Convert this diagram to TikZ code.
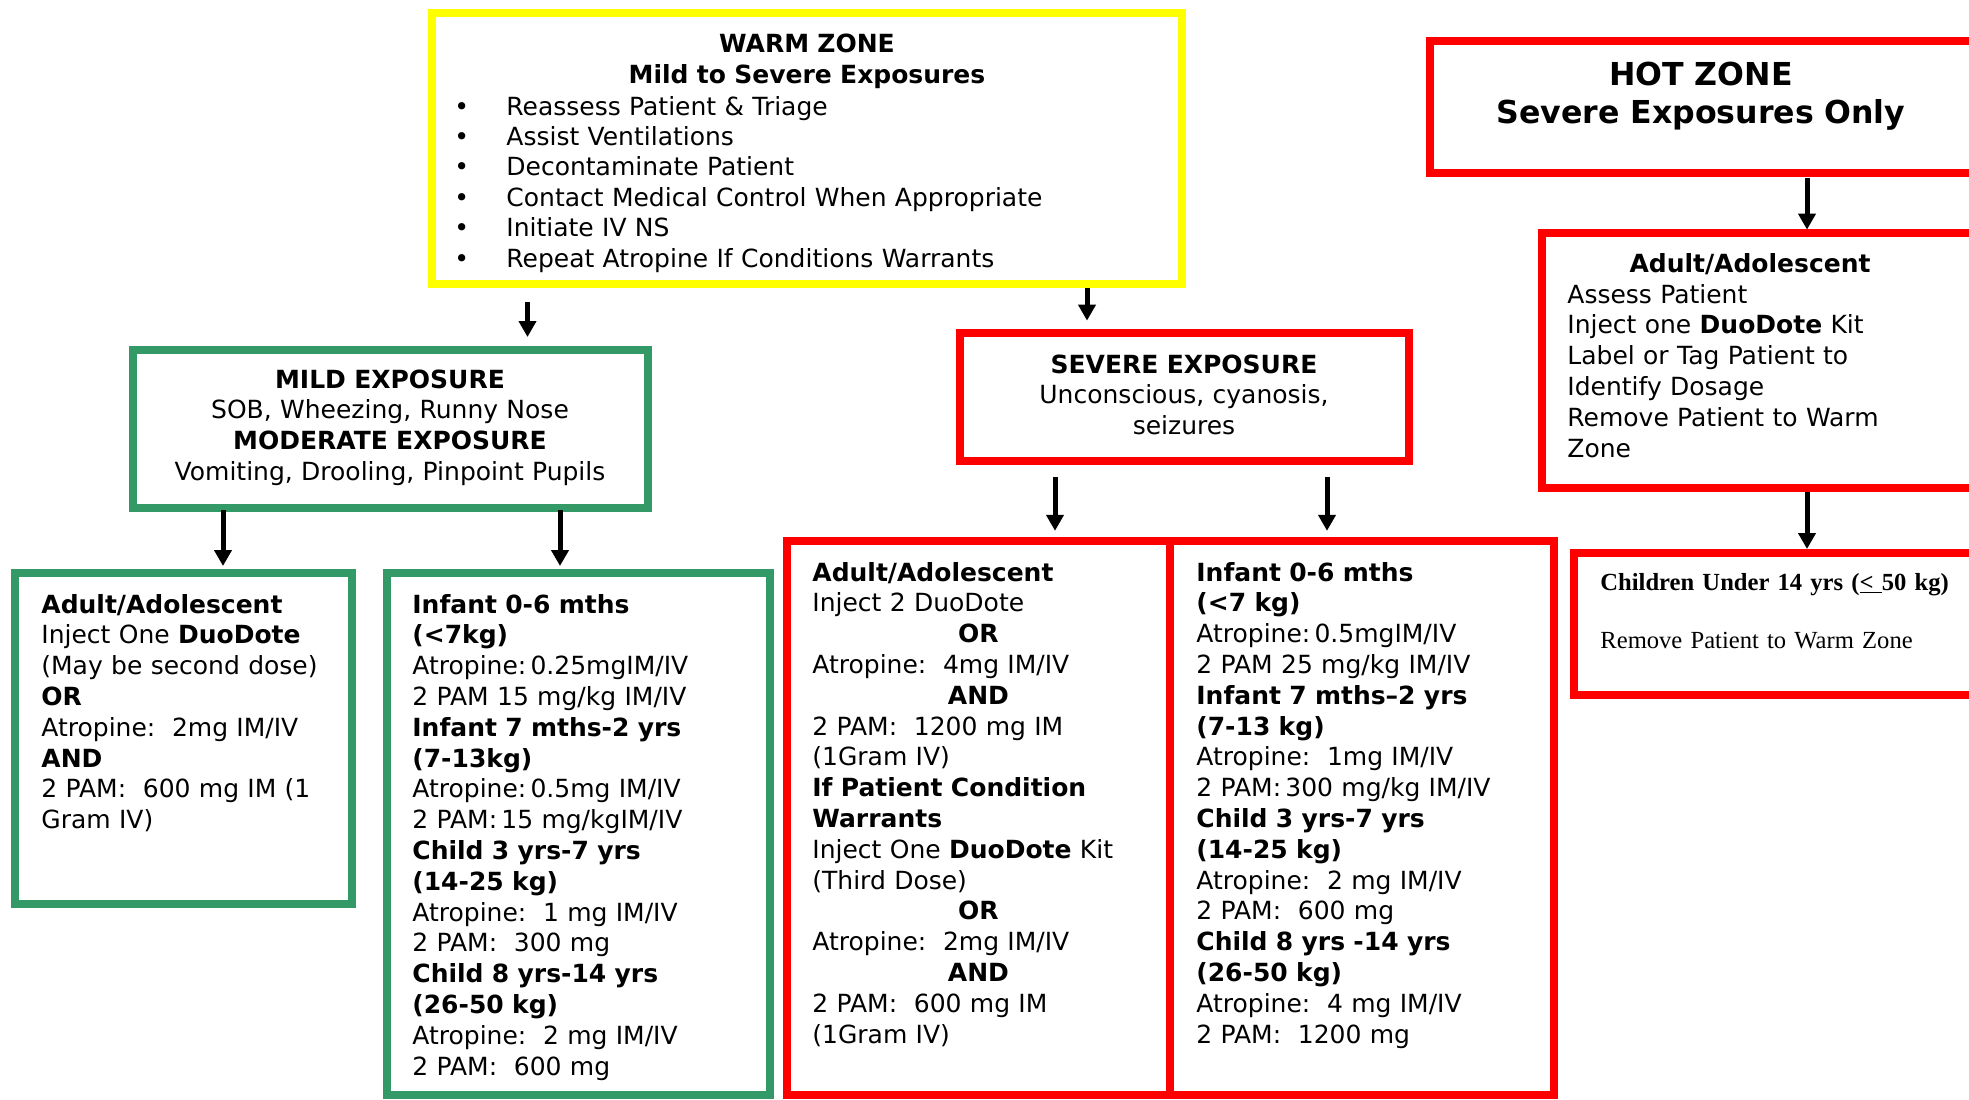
\documentclass[tikz,border=0pt]{standalone}
\usepackage{fontspec}
\setmainfont{DejaVu Sans}
\newfontfamily\kidsfont{Liberation Serif}
\usetikzlibrary{arrows.meta, positioning}

\definecolor{hotred}{HTML}{FF0000}
\definecolor{warmyellow}{HTML}{FFFF00}
\definecolor{mildgreen}{HTML}{339966}

\newcommand{\warmitem}{\makebox[26pt][l]{•}}
\newcommand{\midword}[1]{\makebox[166pt]{\textbf{#1}}}

\tikzset{
  zonebox/.style={draw, line width=4pt, inner sep=0pt, outer sep=0pt, anchor=north west},
  redbox/.style={zonebox, draw=hotred},
  greenbox/.style={zonebox, draw=mildgreen},
  yellowbox/.style={zonebox, draw=warmyellow},
  txt/.style={inner sep=0pt, text width=#1, align=left, anchor=base west,
    font=\fontsize{12.5}{15.4}\selectfont},
  txt/.default=220pt,
  headtxt/.style={txt=#1, align=center, anchor=base},
  headtxt/.default=320pt,
  arr/.style={line width=2.5pt, -{Triangle[width=8.5pt, length=8pt]}},
}

\begin{document}
\begin{tikzpicture}[x=0.5pt, y=-0.5pt]
  \useasboundingbox (0,0) rectangle (1969,1099);
  \clip (0,0) rectangle (1969,1099);

  % zone boxes
  \node[yellowbox, minimum width=375pt, minimum height=135.5pt] (warm) at (432,13) {};
  \node[redbox, minimum width=335pt, minimum height=66pt] (hot) at (1430,41) {};
  \node[redbox, minimum width=279pt, minimum height=127.5pt] (hotadult) at (1542,233) {};
  \node[redbox, minimum width=263pt, minimum height=70.75pt] (kids) at (1574,553) {};
  \node[greenbox, minimum width=257.5pt, minimum height=79pt] (mild) at (133,350) {};
  \node[redbox, minimum width=224.5pt, minimum height=64pt] (severe) at (960,333) {};
  \node[greenbox, minimum width=168.5pt, minimum height=165.5pt] (gadult) at (15,573) {};
  \node[greenbox, minimum width=191.5pt, minimum height=261pt] (ginfant) at (387,573) {};
  \node[redbox, minimum width=191.5pt, minimum height=277pt] (radult) at (787,541) {};
  \node[redbox, minimum width=192pt, minimum height=277pt] (rinfant) at (1170,541) {};

  % texts
  \node[headtxt] (warmhead) at (807,52.7) {\textbf{WARM ZONE}\\\textbf{Mild to Severe Exposures}};
  \node[txt=340pt, font=\fontsize{12.5}{15.2}\selectfont] (warmlist) at (454,115)
    {\warmitem Reassess Patient \& Triage\\
     \warmitem Assist Ventilations\\
     \warmitem Decontaminate Patient\\
     \warmitem Contact Medical Control When Appropriate\\
     \warmitem Initiate IV NS\\
     \warmitem Repeat Atropine If Conditions Warrants};
  \node[headtxt, font=\fontsize{15.8}{19}\selectfont] (hothead) at (1701,85) {\textbf{HOT ZONE}\\\textbf{Severe Exposures Only}};
  \node[headtxt] (hotadulthead) at (1750,272) {\textbf{Adult/Adolescent}};
  \node[txt] (hotadulttxt) at (1567,303)
    {Assess Patient\\Inject one \textbf{DuoDote} Kit\\Label or Tag Patient to\\Identify Dosage\\Remove Patient to Warm\\Zone};
  \node[txt=240pt, font=\kidsfont\fontsize{12.3}{15.4}\selectfont] (kidstxt) at (1600,590)
    {\textbf{Children Under 14 yrs (\underline{<\ }50 kg)}\\[14pt]Remove Patient to Warm Zone};
  \node[headtxt] (mildtxt) at (390,388)
    {\textbf{MILD EXPOSURE}\\SOB, Wheezing, Runny Nose\\\textbf{MODERATE EXPOSURE}\\Vomiting, Drooling, Pinpoint Pupils};
  \node[headtxt] (severetxt) at (1184,373) {\textbf{SEVERE EXPOSURE}\\Unconscious, cyanosis,\\seizures};
  \node[txt] (gadulttxt) at (41,613)
    {\textbf{Adult/Adolescent}\\Inject One \textbf{DuoDote}\\(May be second dose)\\\textbf{OR}\\
     Atropine:~~2mg IM/IV\\\textbf{AND}\\2 PAM:~~600 mg IM (1\\Gram IV)};
  \node[txt] (ginfanttxt) at (412,613)
    {\textbf{Infant 0-6 mths}\\\textbf{(<7kg)}\\Atropine:\,0.25mgIM/IV\\2 PAM 15 mg/kg IM/IV\\
     \textbf{Infant 7 mths-2 yrs}\\\textbf{(7-13kg)}\\Atropine:\,0.5mg IM/IV\\2 PAM:\,15 mg/kgIM/IV\\
     \textbf{Child 3 yrs-7 yrs}\\\textbf{(14-25 kg)}\\Atropine:~~1 mg IM/IV\\2 PAM:~~300 mg\\
     \textbf{Child 8 yrs-14 yrs}\\\textbf{(26-50 kg)}\\Atropine:~~2 mg IM/IV\\2 PAM:~~600 mg};
  \node[txt] (radulttxt) at (812,581)
    {\textbf{Adult/Adolescent}\\Inject 2 DuoDote\\\midword{OR}\\Atropine:~~4mg IM/IV\\\midword{AND}\\
     2 PAM:~~1200 mg IM\\(1Gram IV)\\\textbf{If Patient Condition}\\\textbf{Warrants}\\
     Inject One \textbf{DuoDote} Kit\\(Third Dose)\\\midword{OR}\\Atropine:~~2mg IM/IV\\\midword{AND}\\
     2 PAM:~~600 mg IM\\(1Gram IV)};
  \node[txt] (rinfanttxt) at (1196,581)
    {\textbf{Infant 0-6 mths}\\\textbf{(<7 kg)}\\Atropine:\,0.5mgIM/IV\\2 PAM 25 mg/kg IM/IV\\
     \textbf{Infant 7 mths–2 yrs}\\\textbf{(7-13 kg)}\\Atropine:~~1mg IM/IV\\2 PAM:\,300 mg/kg IM/IV\\
     \textbf{Child 3 yrs-7 yrs}\\\textbf{(14-25 kg)}\\Atropine:~~2 mg IM/IV\\2 PAM:~~600 mg\\
     \textbf{Child 8 yrs -14 yrs}\\\textbf{(26-50 kg)}\\Atropine:~~4 mg IM/IV\\2 PAM:~~1200 mg};

  % connectors
  \path (warm.south west) ++(95.5,0) coordinate (c1);
  \path (warm.south west) ++(655,0) coordinate (c2);
  \path (hot.south west) ++(377,0) coordinate (c3);
  \path (hotadult.south west) ++(265,0) coordinate (c4);
  \path (mild.south west) ++(90,0) coordinate (c5);
  \path (mild.south west) ++(427,0) coordinate (c6);
  \path (severe.south west) ++(95,0) coordinate (c7);
  \path (severe.south west) ++(367,0) coordinate (c8);
  \draw[arr, shorten <=9pt, shorten >=6.5pt] (c1) -- (c1 |- mild.north);
  \draw[arr, shorten <=2pt, shorten >=6.2pt] (c2) -- (c2 |- severe.north);
  \draw[arr, shorten <=2.5pt, shorten >=1.7pt] (c3) -- (c3 |- hotadult.north);
  \draw[arr, shorten <=2pt, shorten >=2pt] (c4) -- (c4 |- kids.north);
  \draw[arr, shorten <=1pt, shorten >=3.5pt] (c5) -- (c5 |- gadult.north);
  \draw[arr, shorten <=1pt, shorten >=3.5pt] (c6) -- (c6 |- ginfant.north);
  \draw[arr, shorten <=8pt, shorten >=5.1pt] (c7) -- (c7 |- radult.north);
  \draw[arr, shorten <=8pt, shorten >=5.1pt] (c8) -- (c8 |- rinfant.north);
\end{tikzpicture}
\end{document}
